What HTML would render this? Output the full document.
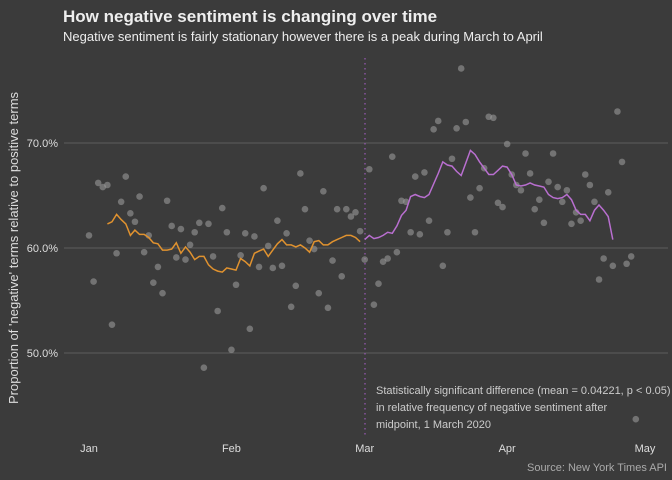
<!DOCTYPE html>
<html><head><meta charset="utf-8">
<style>
html,body{margin:0;padding:0;background:#3b3b3b;}
svg{display:block;font-family:"Liberation Sans",sans-serif;}
</style></head>
<body>
<svg id="chart" width="672" height="480" viewBox="0 0 672 480">
<rect x="0" y="0" width="672" height="480" fill="#3b3b3b"/>
<text x="63" y="22" font-size="17" font-weight="bold" fill="#eeeeee">How negative sentiment is changing over time</text>
<text x="63" y="41" font-size="13" fill="#eeeeee">Negative sentiment is fairly stationary however there is a peak during March to April</text>
<g id="grid"></g>
<g id="yticks"></g>
<g id="xticks"></g>
<text transform="translate(18,248) rotate(-90)" text-anchor="middle" font-size="13" fill="#dddddd">Proportion of 'negative' terms relative to positive terms</text>
<line x1="365" y1="58" x2="365" y2="436" stroke="#9b59b6" stroke-width="1.2" stroke-dasharray="1.5,3.5"/>
<g id="points"></g>
<path id="lineBefore" fill="none" stroke="#e0922f" stroke-width="1.5"/>
<path id="lineAfter" fill="none" stroke="#b96fd0" stroke-width="1.5"/>
<g font-size="11" fill="#cccccc">
<text x="376" y="394">Statistically significant difference (mean = 0.04221, p &lt; 0.05)</text>
<text x="376" y="411">in relative frequency of negative sentiment after</text>
<text x="376" y="428">midpoint, 1 March 2020</text>
</g>
<text x="667" y="471" text-anchor="end" font-size="11" fill="#aaaaaa">Source: New York Times API</text>
</svg>
<script>
const pointValues = [61.2,56.8,66.2,65.8,66.0,52.7,59.5,64.4,66.8,63.3,62.5,64.9,59.6,61.2,56.7,58.2,55.7,64.5,62.1,59.1,61.8,58.9,60.3,61.5,62.4,48.6,62.3,59.2,54.0,63.8,61.5,50.3,56.5,59.3,61.4,52.3,61.1,58.2,65.7,60.2,58.1,62.6,58.3,61.4,54.4,56.4,67.1,63.7,60.7,59.9,55.7,65.4,54.3,58.8,63.7,57.3,63.7,63.0,63.4,61.6,58.9,67.5,54.6,56.6,58.7,59.0,68.7,59.6,64.5,64.4,61.5,66.8,61.3,67.2,62.6,71.3,72.1,58.3,61.5,68.5,71.4,77.1,72.0,64.8,61.5,65.7,67.6,72.5,72.4,64.3,63.9,69.9,67.0,66.0,65.5,69.0,67.1,63.7,64.6,62.4,66.3,69.0,65.8,64.4,65.5,62.3,63.4,62.6,67.0,66.0,64.4,57.0,59.0,65.3,58.3,73.0,68.2,58.5,59.2,43.7];
const beforeStart = 4;
const beforeAvg = [62.3,62.5,63.2,62.7,62.3,61.2,61.7,61.3,61.3,61.0,60.5,60.4,59.8,59.8,59.9,60.5,59.5,60.1,59.6,58.9,59.2,59.2,58.4,58.0,57.8,57.7,58.1,58.0,57.9,59.0,58.7,58.3,59.5,59.7,59.9,59.2,59.8,60.4,60.8,60.3,60.3,60.1,60.3,60.0,59.6,60.6,60.7,60.3,60.3,60.6,60.8,61.0,61.2,61.2,61.0,60.6];
const afterStart = 60;
const afterAvg = [60.8,61.2,60.9,61.0,61.2,61.5,61.4,62.1,63.1,63.6,64.9,65.1,64.9,64.8,65.1,66.1,67.1,68.2,67.9,67.8,67.3,66.9,68.1,69.3,68.9,68.2,67.6,67.0,67.0,67.4,67.8,67.7,67.0,66.0,65.9,66.0,66.2,66.0,65.9,65.8,65.1,64.8,64.7,64.8,65.1,64.6,63.6,63.2,63.2,62.6,63.6,64.1,63.6,63.0,60.8];
const yTicks = [50,60,70];
const yTickLabels = ["50.0%","60.0%","70.0%"];
const xTickDays = [0,31,60,91,121];
const xTickLabels = ["Jan","Feb","Mar","Apr","May"];

const NS = "http://www.w3.org/2000/svg";
const xs = d => 89 + d * 4.595;
const ys = v => 248 - (v - 60) * 10.5;

const grid = document.getElementById('grid');
const yt = document.getElementById('yticks');
yTicks.forEach((t, i) => {
  const l = document.createElementNS(NS, 'line');
  l.setAttribute('x1', 64); l.setAttribute('x2', 668);
  l.setAttribute('y1', ys(t)); l.setAttribute('y2', ys(t));
  l.setAttribute('stroke', '#5c5c5c'); l.setAttribute('stroke-width', '1');
  
  
  grid.appendChild(l);
  const tx = document.createElementNS(NS, 'text');
  tx.setAttribute('x', 58); tx.setAttribute('y', ys(t) + 4);
  tx.setAttribute('text-anchor', 'end'); tx.setAttribute('font-size', '11');
  tx.setAttribute('fill', '#dddddd');
  tx.textContent = yTickLabels[i];
  
  
  yt.appendChild(tx);
});
const xt = document.getElementById('xticks');
xTickDays.forEach((d, i) => {
  const tx = document.createElementNS(NS, 'text');
  tx.setAttribute('x', xs(d)); tx.setAttribute('y', 452);
  tx.setAttribute('text-anchor', 'middle'); tx.setAttribute('font-size', '11');
  tx.setAttribute('fill', '#dddddd');
  tx.textContent = xTickLabels[i];
  
  
  xt.appendChild(tx);
});
const pg = document.getElementById('points');
pointValues.forEach((v, d) => {
  const c = document.createElementNS(NS, 'circle');
  c.setAttribute('cx', xs(d)); c.setAttribute('cy', ys(v)); c.setAttribute('r', 3.3);
  c.setAttribute('fill', '#9a9a9a'); c.setAttribute('fill-opacity', '0.6');
  
  
  pg.appendChild(c);
});
function path(arr, start) {
  return arr.map((v, i) => (i ? 'L' : 'M') + xs(start + i).toFixed(1) + ',' + ys(v).toFixed(1)).join(' ');
}
document.getElementById('lineBefore').setAttribute('d', path(beforeAvg, beforeStart));
document.getElementById('lineAfter').setAttribute('d', path(afterAvg, afterStart));
</script>
</body></html>
